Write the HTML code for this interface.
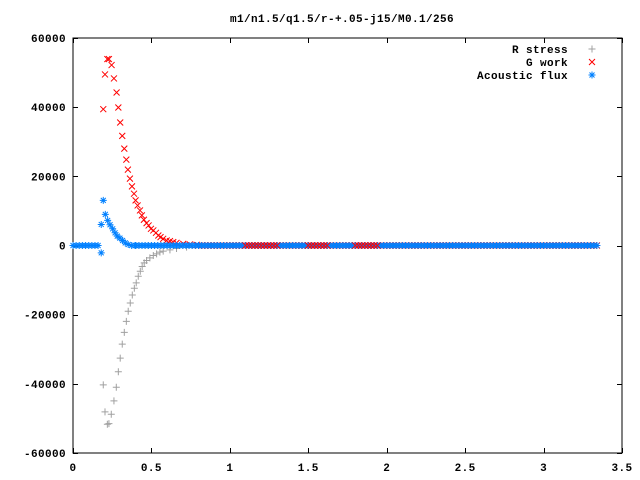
<!DOCTYPE html>
<html><head><meta charset="utf-8"><style>
body{margin:0;background:#fff}
svg{display:block}
text{font-family:"Liberation Mono",monospace;font-weight:bold;font-size:11px;letter-spacing:0.4px;fill:#000}
</style></head><body>
<svg id="chart" width="640" height="480" viewBox="0 0 640 480" xmlns="http://www.w3.org/2000/svg">
<rect x="0" y="0" width="640" height="480" fill="#fff"/>
<text x="342" y="22" text-anchor="middle">m1/n1.5/q1.5/r-+.05-j15/M0.1/256</text>
<g id="axes"></g>
<g id="marks"></g>
<g id="legend">
<text x="568" y="53" text-anchor="end">R stress</text>
<text x="568" y="66" text-anchor="end">G work</text>
<text x="568" y="79" text-anchor="end">Acoustic flux</text>
</g>
</svg>
<script>
const xTicks=[0,0.5,1,1.5,2,2.5,3,3.5];
const xTickLabels=["0","0.5","1","1.5","2","2.5","3","3.5"];
const yTicks=[-60000,-40000,-20000,0,20000,40000,60000];
const yTickLabels=["-60000","-40000","-20000","0","20000","40000","60000"];

const gworkX=[0.193,0.204,0.219,0.229,0.246,0.261,0.278,0.289,0.301,0.314,0.327,0.340,0.350,0.363,0.376,0.389,0.399,0.412,0.427,0.439,0.452,0.469,0.482,0.497,0.512,0.529,0.544,0.558,0.575,0.597,0.618,0.639,0.660,0.703,0.745,0.788];
const gworkY=[39420,49470,53910,53910,52170,48310,44250,39900,35560,31690,28020,24830,21930,19330,17100,14980,13040,11590,10140,8700,7440,6470,5800,4830,4350,3670,2900,2420,1930,1450,1260,970,770,480,290,190];

const rstressX=[0.193,0.204,0.219,0.229,0.244,0.261,0.276,0.289,0.301,0.314,0.327,0.340,0.352,0.365,0.378,0.391,0.403,0.416,0.429,0.441,0.454,0.469,0.490,0.512,0.533,0.554,0.575,0.618,0.660,0.724];
const rstressY=[-40290,-48120,-51690,-51500,-48790,-44930,-40970,-36520,-32560,-28500,-25120,-21930,-19030,-16620,-14300,-12370,-10820,-8890,-7440,-6090,-5020,-4350,-3580,-2900,-2420,-1930,-1640,-1260,-870,-480];

const fluxX=[0.180,0.180,0.193,0.206,0.221,0.236,0.253,0.268,0.282,0.299,0.316,0.333,0.352,0.374,0.395];
const fluxY=[-2120,6090,13040,8990,7250,5990,4830,3670,2710,2130,1450,770,290,0,0];

// ranges where G work markers show on top of the flux markers
const redTopRanges=[[1.1,1.3],[1.5,1.62],[1.8,1.95]];

// flat near-zero tails (abscissa grid spacing of sampled data)
const tailStart=0.40, tailStep=0.02, tailCount=148;
const leftStart=0.0, leftCount=9;
const tailValue=0;

const L=73,R=622,T=38,B=453;
const sx=v=>L+v*(R-L)/3.5;
const sy=v=>(T+B)/2-v*(B-T)/120000;
const NS="http://www.w3.org/2000/svg";
function mk(tag,attrs,parent){const e=document.createElementNS(NS,tag);for(const k in attrs)e.setAttribute(k,attrs[k]);parent.appendChild(e);return e;}
const axes=document.getElementById('axes'),marks=document.getElementById('marks');

const frame=mk('rect',{x:L,y:T,width:R-L,height:B-T,fill:'none',stroke:'#000','stroke-width':1},axes);


xTicks.forEach((v,i)=>{
  const x=Math.round(sx(v))+0.5;
  const t=mk('path',{d:`M${x},${B}v-5M${x},${T}v5`,stroke:'#000','stroke-width':1},axes);
  
  
  const l=mk('text',{x:sx(v),y:B+18,'text-anchor':'middle'},axes);
  l.textContent=xTickLabels[i];
  
  
});
yTicks.forEach((v,i)=>{
  const y=Math.round(sy(v))+0.5;
  const t=mk('path',{d:`M${L},${y}h5M${R},${y}h-5`,stroke:'#000','stroke-width':1},axes);
  
  
  const l=mk('text',{x:66,y:sy(v)+4,'text-anchor':'end'},axes);
  l.textContent=yTickLabels[i];
  
  
});

function marker(kind,x,y,color,parent){
  let d;
  if(kind==='plus')d=`M${x-3.5},${y}h7M${x},${y-3.5}v7`;
  else if(kind==='cross')d=`M${x-3},${y-3}l6,6M${x-3},${y+3}l6,-6`;
  else d=`M${x-3.5},${y}h7M${x},${y-3.5}v7M${x-2.5},${y-2.5}l5,5M${x-2.5},${y+2.5}l5,-5`;
  return mk('path',{d:d,stroke:color,'stroke-width':1,fill:'none'},parent);
}
function series(name,kind,color,xs,ys){
  const g=mk('g',{},marks);
  
  
  xs.forEach((xv,i)=>{
    const p=marker(kind,sx(xv),sy(ys[i]),color,g);
    
    
  });
}
const tailX=[],tailY=[],leftX=[],leftY=[];
for(let i=0;i<tailCount;i++){tailX.push(tailStart+i*tailStep);tailY.push(tailValue);}
for(let i=0;i<leftCount;i++){leftX.push(leftStart+i*tailStep);leftY.push(tailValue);}
const topX=tailX.filter(x=>redTopRanges.some(r=>x>=r[0]&&x<=r[1]));
const topY=topX.map(()=>tailValue);

series('r-stress-series','plus','#a0a0a0',rstressX.concat(tailX),rstressY.concat(tailY));
series('g-work-series','cross','#ff0000',gworkX.concat(tailX.slice(20)),gworkY.concat(tailY.slice(20)));
series('acoustic-flux-series','star','#0080ff',leftX.concat(fluxX,tailX),leftY.concat(fluxY,tailY));
series('g-work-overlay','cross','#ff0000',topX,topY);

const lg=document.getElementById('legend');
[['plus','#a0a0a0',49,'legend-marker-r-stress'],['cross','#ff0000',62,'legend-marker-g-work'],['star','#0080ff',75,'legend-marker-acoustic-flux']].forEach(a=>{
  const p=marker(a[0],592,a[2],a[1],lg);
  
  
});
</script>
</body></html>
